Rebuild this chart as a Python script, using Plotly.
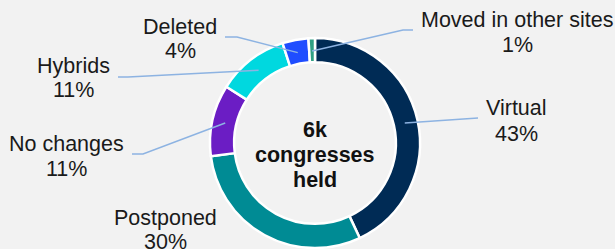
import math
import plotly.graph_objects as go

# Data
categories = ["Virtual", "Postponed", "No changes", "Hybrids", "Deleted", "Moved in other sites"]
values = [43, 30, 11, 11, 4, 1]
pct_labels = ["43%", "30%", "11%", "11%", "4%", "1%"]
colors = ["#002B55", "#008B94", "#6B1DC4", "#00D8DF", "#1F4DFF", "#2FA083"]
center_text = ["6k", "congresses", "held"]

W, H = 615, 249
CX, CY, R = 315, 143, 105

fig = go.Figure()
fig.add_trace(go.Pie(
    labels=categories, values=values, sort=False, direction="clockwise", rotation=0,
    hole=0.77, textinfo="none", hoverinfo="label+percent",
    marker=dict(colors=colors, line=dict(color="white", width=2.5)),
    domain=dict(x=[(CX - R) / W, (CX + R) / W], y=[1 - (CY + R) / H, 1 - (CY - R) / H]),
    showlegend=False,
))

# label layout (pixel positions: name line, pct line, leader elbow points)
label_pos = {
    "Virtual": dict(x=516, y1=108, y2=134, path=[(478, 118)]),
    "Postponed": dict(x=165, y1=218, y2=242, path=None),
    "No changes": dict(x=66, y1=144, y2=169, path=[(143, 154), (132, 154)]),
    "Hybrids": dict(x=73, y1=66, y2=90, path=[(128, 77), (118, 77)]),
    "Deleted": dict(x=180, y1=27, y2=51, path=[(237, 37), (225, 37)]),
    "Moved in other sites": dict(x=517, y1=20, y2=45, path=[(403, 30), (413, 30)]),
}

total = sum(values)
cum = 0
annotations = []
for cat, v, p in zip(categories, values, pct_labels):
    mid = (cum + v / 2) / total * 2 * math.pi
    cum += v
    lp = label_pos[cat]
    if lp["path"]:
        rr = 92
        sx = CX + rr * math.sin(mid)
        sy = CY - rr * math.cos(mid)
        pts = [(sx, sy)] + lp["path"]
        d = "M {} {}".format(*pts[0]) + "".join(" L {} {}".format(px, py) for px, py in pts[1:])
        fig.add_shape(type="path", path=d, xref="x", yref="y",
                      line=dict(color="#8DB3E2", width=1.5))
    for txt, yy in ((cat, lp["y1"]), (p, lp["y2"])):
        annotations.append(dict(x=lp["x"], y=yy, xref="x", yref="y", text=txt, showarrow=False,
                                xanchor="center", yanchor="middle",
                                font=dict(family="Liberation Sans, Arial", size=21.5, color="#1a1a1a")))

for txt, yy in zip(center_text, [130, 155, 180]):
    annotations.append(dict(x=CX, y=yy, xref="x", yref="y", text="<b>" + txt + "</b>", showarrow=False,
                            xanchor="center", yanchor="middle",
                            font=dict(family="Liberation Sans, Arial", size=21.5, color="#111111")))

fig.update_layout(
    width=W, height=H, margin=dict(l=0, r=0, t=0, b=0),
    paper_bgcolor="#F2F2F2", plot_bgcolor="rgba(0,0,0,0)",
    xaxis=dict(range=[0, W], visible=False, fixedrange=True),
    yaxis=dict(range=[H, 0], visible=False, fixedrange=True),
    annotations=annotations,
)

fig.write_html("out.html", config={"displayModeBar": False},
               post_script="document.body.style.margin='0';document.body.style.overflow='hidden';")
